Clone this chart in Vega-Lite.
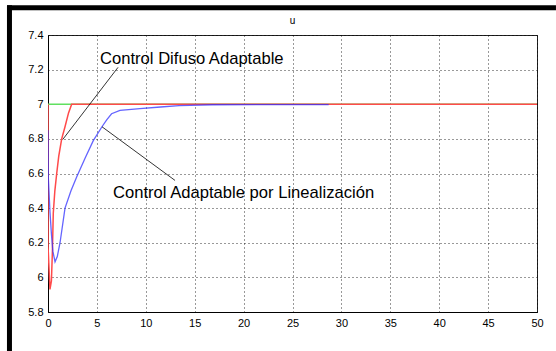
{
  "$schema": "https://vega.github.io/schema/vega-lite/v6.json",
  "width": 489,
  "height": 277,
  "autosize": {"type": "none"},
  "padding": {"left": 48, "top": 35, "right": 19, "bottom": 39},
  "background": "white",
  "title": {"text": "u", "fontSize": 10, "font": "Liberation Sans", "fontWeight": "normal", "offset": -23, "color": "#000"},
  "datasets": {
    "ref": [{"t": 0, "u": 7}, {"t": 50, "u": 7}],
    "fuzzy": [
      {"t": 0, "u": 7}, {"t": 0.005, "u": 6.18}, {"t": 0.2, "u": 5.93}, {"t": 0.35, "u": 5.98},
      {"t": 0.45, "u": 6.15}, {"t": 0.54, "u": 6.37}, {"t": 0.7, "u": 6.5}, {"t": 0.89, "u": 6.6},
      {"t": 1.1, "u": 6.7}, {"t": 1.4, "u": 6.8}, {"t": 1.74, "u": 6.87}, {"t": 2.1, "u": 6.95},
      {"t": 2.42, "u": 7}, {"t": 50, "u": 7}
    ],
    "lin": [
      {"t": 0, "u": 6.85}, {"t": 0.03, "u": 6.58}, {"t": 0.2, "u": 6.38}, {"t": 0.35, "u": 6.25},
      {"t": 0.5, "u": 6.15}, {"t": 0.72, "u": 6.09}, {"t": 0.95, "u": 6.12}, {"t": 1.23, "u": 6.2},
      {"t": 1.74, "u": 6.4}, {"t": 2.35, "u": 6.5}, {"t": 2.93, "u": 6.58}, {"t": 3.8, "u": 6.69},
      {"t": 4.63, "u": 6.79}, {"t": 5.52, "u": 6.87}, {"t": 6.0, "u": 6.91}, {"t": 6.5, "u": 6.945},
      {"t": 7.36, "u": 6.965}, {"t": 9.4, "u": 6.975}, {"t": 11.5, "u": 6.984}, {"t": 13.4, "u": 6.992},
      {"t": 16.8, "u": 6.997}, {"t": 28.7, "u": 6.998}
    ],
    "labels": [
      {"label": "Control Difuso Adaptable", "tx": 5.32, "ty": 7.264, "x1": 7.16, "y1": 7.213, "x2": 1.5, "y2": 6.796},
      {"label": "Control Adaptable por Linealización", "tx": 6.65, "ty": 6.485, "x1": 5.52, "y1": 6.87, "x2": 12.99, "y2": 6.56}
    ],
    "frame": [{"side": "left", "a": -3.94, "b0": 5.57, "b1": 7.572}, {"side": "top", "a": 7.557, "b0": -4.19, "b1": 51.94}]
  },
  "layer": [
    {
      "data": {"name": "ref"},
      "mark": {"type": "line", "color": "#60e060", "strokeWidth": 1.5, "clip": true},
      "encoding": {
        "x": {"field": "t", "type": "quantitative", "scale": {"domain": [0, 50], "nice": false},
              "axis": {"values": [0, 5, 10, 15, 20, 25, 30, 35, 40, 45, 50], "title": null, "labelOverlap": false}},
        "y": {"field": "u", "type": "quantitative", "scale": {"domain": [5.8, 7.4], "nice": false, "zero": false},
              "axis": {"tickCount": 8, "format": ".1~f", "title": null, "labelOverlap": false, "labelSeparation": 0, "labelBound": false}}
      }
    },
    {
      "data": {"name": "fuzzy"},
      "mark": {"type": "line", "color": "#ff4a4a", "strokeWidth": 1.5, "clip": true},
      "encoding": {
        "x": {"field": "t", "type": "quantitative"},
        "y": {"field": "u", "type": "quantitative"},
        "order": {"field": "t"}
      }
    },
    {
      "data": {"name": "lin"},
      "mark": {"type": "line", "color": "#3030ff", "strokeWidth": 1.3, "opacity": 0.75, "clip": true},
      "encoding": {
        "x": {"field": "t", "type": "quantitative"},
        "y": {"field": "u", "type": "quantitative"},
        "order": {"field": "t"}
      }
    },
    {
      "data": {"name": "labels"},
      "mark": {"type": "rule", "color": "#000", "strokeWidth": 0.8},
      "encoding": {
        "x": {"field": "x1", "type": "quantitative"},
        "y": {"field": "y1", "type": "quantitative"},
        "x2": {"field": "x2"},
        "y2": {"field": "y2"}
      }
    },
    {
      "data": {"name": "labels"},
      "mark": {"type": "text", "align": "left", "baseline": "middle", "fontSize": 16.6, "font": "Liberation Sans", "color": "#000"},
      "encoding": {
        "x": {"field": "tx", "type": "quantitative"},
        "y": {"field": "ty", "type": "quantitative"},
        "text": {"field": "label"}
      }
    },
    {
      "data": {"name": "frame"},
      "transform": [{"filter": "datum.side === 'left'"}],
      "mark": {"type": "rule", "color": "#000", "strokeWidth": 5},
      "encoding": {
        "x": {"field": "a", "type": "quantitative"},
        "y": {"field": "b0", "type": "quantitative"},
        "y2": {"field": "b1"}
      }
    },
    {
      "data": {"name": "frame"},
      "transform": [{"filter": "datum.side === 'top'"}],
      "mark": {"type": "rule", "color": "#000", "strokeWidth": 5},
      "encoding": {
        "y": {"field": "a", "type": "quantitative"},
        "x": {"field": "b0", "type": "quantitative"},
        "x2": {"field": "b1"}
      }
    }
  ],
  "config": {
    "view": {"stroke": "#222", "strokeWidth": 1},
    "axis": {
      "labelFont": "Liberation Sans",
      "labelFontSize": 11,
      "labelColor": "#000",
      "domainColor": "#000",
      "ticks": false,
      "labelPadding": 5,
      "labelOverlap": false,
      "grid": true,
      "gridColor": "#000",
      "gridDash": [1, 3],
      "gridOpacity": 0.8,
      "labelFlush": false
    },
    "axisY": {"labelPadding": 5, "labelOverlap": false}
  }
}
